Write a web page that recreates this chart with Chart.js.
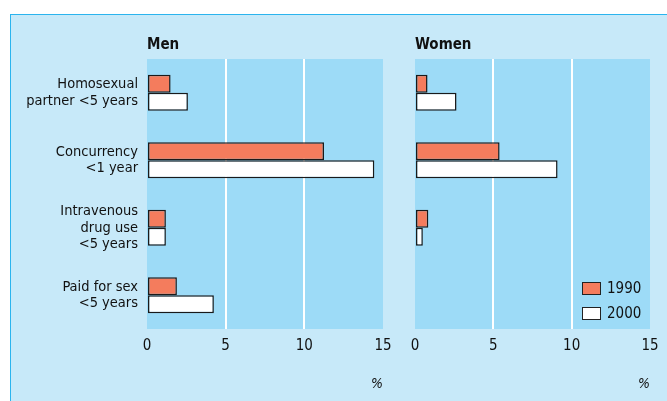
<!DOCTYPE html>
<html>
<head>
<meta charset="utf-8">
<script src="https://cdn.jsdelivr.net/npm/chart.js@4.4.1/dist/chart.umd.min.js"></script>
<style>
  html, body { margin: 0; padding: 0; background: #fff; }
  body { width: 667px; height: 401px; position: relative; overflow: hidden; }
  #frame {
    position: absolute; left: 10px; top: 14px; width: 700px; height: 420px;
    background: #c7e9f9; border-left: 1.5px solid #2bb4ee; border-top: 1.5px solid #2bb4ee;
  }
  canvas { position: absolute; top: 0; }
  #men { left: 0; }
  #women { left: 400px; }
</style>
</head>
<body>
<div id="frame"></div>
<canvas id="men" width="400" height="401"></canvas>
<canvas id="women" width="267" height="401"></canvas>
<script>
const categories = [
    ['Homosexual', 'partner <5 years'],
    ['Concurrency', '<1 year'],
    ['Intravenous', 'drug use', '<5 years'],
    ['Paid for sex', '<5 years']
];
const years = ['1990', '2000'];
const men1990 = [1.5, 11.25, 1.2, 1.9];
const men2000 = [2.6, 14.45, 1.2, 4.25];
const women1990 = [0.8, 5.4, 0.85, 0];
const women2000 = [2.65, 9.1, 0.5, 0];
const xTicks = [0, 5, 10, 15];

const FONT = "'Liberation Sans Narrow', 'DejaVu Sans Condensed', 'Liberation Sans', sans-serif";
const colors = ['#f47c5d', '#ffffff'];

const plotBackground = {
    id: 'plotBackground',
    beforeDraw(chart) {
        const { ctx, chartArea } = chart;
        ctx.save();
        ctx.fillStyle = '#9ddbf7';
        ctx.fillRect(chartArea.left, chartArea.top, chartArea.right - chartArea.left, chartArea.bottom - chartArea.top);
        ctx.restore();
    }
};

const panelTitle = {
    id: 'panelTitle',
    afterDraw(chart, args, opts) {
        const { ctx, chartArea } = chart;
        ctx.save();
        ctx.font = 'bold 15px ' + FONT;
        ctx.fillStyle = '#111';
        ctx.textBaseline = 'alphabetic';
        ctx.fillText(opts.text, chartArea.left, chartArea.top - 10);
        ctx.restore();
    }
};

const boxLegend = {
    id: 'boxLegend',
    afterDraw(chart, args, opts) {
        if (!opts.show) return;
        const { ctx } = chart;
        ctx.save();
        ctx.font = '15px ' + FONT;
        ctx.textBaseline = 'middle';
        chart.data.datasets.forEach((ds, i) => {
            const x = 182, y = 282 + i * 25;
            ctx.fillStyle = ds.backgroundColor;
            ctx.fillRect(x, y, 18, 12);
            ctx.strokeStyle = '#222';
            ctx.lineWidth = 1;
            ctx.strokeRect(x + 0.5, y + 0.5, 18, 12);
            ctx.fillStyle = '#111';
            ctx.fillText(ds.label, x + 25, y + 7);
        });
        ctx.restore();
    }
};

function makeChart(id, d1990, d2000, title, yWidth, showLabels, showLegend) {
    return new Chart(document.getElementById(id), {
        type: 'bar',
        data: {
            labels: categories,
            datasets: [
                { label: years[0], data: d1990, backgroundColor: colors[0] },
                { label: years[1], data: d2000, backgroundColor: colors[1] }
            ]
        },
        options: {
            indexAxis: 'y',
            responsive: false,
            animation: false,
            layout: { padding: { top: 59, right: 17, left: 0, bottom: 0 } },
            datasets: {
                bar: {
                    borderColor: '#1a1a1a',
                    borderWidth: 1.5,
                    borderSkipped: false,
                    categoryPercentage: 0.53,
                    barPercentage: 1
                }
            },
            scales: {
                x: {
                    min: 0, max: 15,
                    afterBuildTicks: s => { s.ticks = xTicks.map(v => ({ value: v })); },
                    afterFit: s => { s.height = 72; },
                    grid: {
                        color: c => (c.tick && (c.tick.value === 5 || c.tick.value === 10)) ? '#ffffff' : 'rgba(0,0,0,0)',
                        lineWidth: 2,
                        drawTicks: false
                    },
                    border: { display: false },
                    ticks: { color: '#111', padding: 8, font: { family: FONT, size: 15 } },
                    title: {
                        display: true, text: '%', align: 'end', color: '#111',
                        font: { family: FONT, size: 14, style: 'italic' },
                        padding: { top: 0, bottom: 8 }
                    }
                },
                y: {
                    afterFit: s => { s.width = yWidth; },
                    grid: { display: false, drawTicks: false },
                    border: { display: false },
                    ticks: {
                        display: showLabels,
                        color: '#111',
                        padding: 9,
                        font: { family: FONT, size: 14.5, lineHeight: 1.12 }
                    }
                }
            },
            plugins: {
                legend: { display: false },
                tooltip: { enabled: false },
                panelTitle: { text: title },
                boxLegend: { show: showLegend }
            }
        },
        plugins: [plotBackground, panelTitle, boxLegend]
    });
}

makeChart('men', men1990, men2000, 'Men', 147, true, false);
makeChart('women', women1990, women2000, 'Women', 15, false, true);
</script>
</body>
</html>
